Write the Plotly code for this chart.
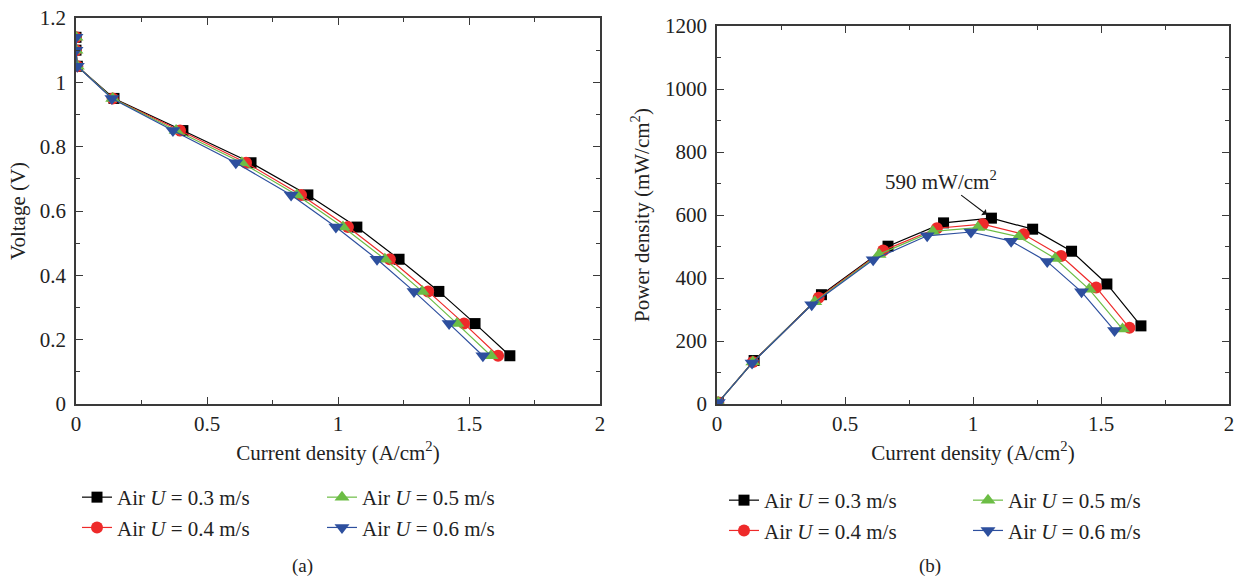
import plotly.graph_objects as go

# ---- data ----
speeds = ["0.3", "0.4", "0.5", "0.6"]
voltage = [1.14, 1.10, 1.05, 0.95, 0.85, 0.75, 0.65, 0.55, 0.45, 0.35, 0.25, 0.15]
current_03 = [0, 0, 0.005, 0.145, 0.408, 0.668, 0.885, 1.072, 1.233, 1.385, 1.523, 1.656]
current_04 = [0, 0, 0.005, 0.140, 0.397, 0.649, 0.859, 1.038, 1.198, 1.344, 1.481, 1.611]
current_05 = [0, 0, 0.005, 0.140, 0.382, 0.633, 0.843, 1.019, 1.179, 1.321, 1.454, 1.584]
current_06 = [0, 0, 0.005, 0.137, 0.370, 0.610, 0.821, 0.992, 1.149, 1.290, 1.424, 1.553]
power_03 = [0, 0, 5, 138, 347, 501, 575, 590, 555, 485, 381, 248]
power_04 = [0, 0, 5, 133, 337, 487, 558, 571, 539, 470, 370, 242]
power_05 = [0, 0, 5, 133, 325, 475, 548, 560, 531, 462, 364, 238]
power_06 = [0, 0, 5, 130, 315, 458, 534, 546, 517, 452, 356, 233]
x_ticks = [0, 0.5, 1, 1.5, 2]
v_ticks = [0, 0.2, 0.4, 0.6, 0.8, 1, 1.2]
p_ticks = [0, 200, 400, 600, 800, 1000, 1200]

currents = [current_03, current_04, current_05, current_06]
powers = [power_03, power_04, power_05, power_06]
colors = ["#000000", "#ee2a2a", "#6cbd45", "#2d4f9e"]
symbols = ["square", "circle", "triangle-up", "triangle-down"]
sizes = [11, 12, 13, 13]

FONT = "Liberation Serif"
FS = 21
W, H = 1246, 580

def px_x(p):
    return p / W

def px_y(p):
    return 1 - p / H

fig = go.Figure()

legend_of_left = ["legend", "legend", "legend2", "legend2"]
legend_of_right = ["legend3", "legend3", "legend4", "legend4"]

for i in range(4):
    name = f"Air <i>U</i> = {speeds[i]} m/s"
    fig.add_trace(go.Scatter(
        x=currents[i], y=voltage, mode="lines+markers", name=name,
        line=dict(color=colors[i], width=1.2),
        marker=dict(symbol=symbols[i], size=sizes[i], color=colors[i]),
        xaxis="x", yaxis="y", legend=legend_of_left[i]))
for i in range(4):
    name = f"Air <i>U</i> = {speeds[i]} m/s"
    fig.add_trace(go.Scatter(
        x=currents[i], y=powers[i], mode="lines+markers", name=name,
        line=dict(color=colors[i], width=1.2),
        marker=dict(symbol=symbols[i], size=sizes[i], color=colors[i]),
        xaxis="x2", yaxis="y2", legend=legend_of_right[i]))

axis_common = dict(
    showline=True, linecolor="#3a3a3a", linewidth=1.6, mirror="allticks",
    ticks="inside", ticklen=7, tickwidth=1.3, tickcolor="#3a3a3a",
    showgrid=False, zeroline=False, automargin=False,
    tickfont=dict(family=FONT, size=FS, color="#222"),
)

fig.update_layout(
    width=W, height=H,
    margin=dict(l=0, r=0, t=0, b=0),
    paper_bgcolor="white", plot_bgcolor="white",
    font=dict(family=FONT, size=FS, color="#222"),
    xaxis=dict(domain=[px_x(76), px_x(600)], range=[0, 2], anchor="y",
               tickvals=x_ticks, ticktext=[str(t) for t in x_ticks],
               ticklabelstandoff=0,
               minor=dict(ticks="inside", ticklen=4, dtick=0.25, tickcolor="#3a3a3a"),
               title=dict(text="Current density (A/cm<sup>2</sup>)", font=dict(family=FONT, size=FS), standoff=10),
               **axis_common),
    yaxis=dict(domain=[px_y(404), px_y(18)], range=[0, 1.2], anchor="x",
               tickvals=v_ticks, ticktext=["0", "0.2", "0.4", "0.6", "0.8", "1", "1.2"],
               ticklabelstandoff=4,
               minor=dict(ticks="inside", ticklen=4, dtick=0.1, tickcolor="#3a3a3a"),
               title=dict(text="Voltage (V)", font=dict(family=FONT, size=FS), standoff=8),
               **axis_common),
    xaxis2=dict(domain=[px_x(717), px_x(1229)], range=[0, 2], anchor="y2",
                tickvals=x_ticks, ticktext=[str(t) for t in x_ticks],
                ticklabelstandoff=0,
                minor=dict(ticks="inside", ticklen=4, dtick=0.25, tickcolor="#3a3a3a"),
                title=dict(text="Current density (A/cm<sup>2</sup>)", font=dict(family=FONT, size=FS), standoff=10),
                **axis_common),
    yaxis2=dict(domain=[px_y(404), px_y(26)], range=[0, 1200], anchor="x2",
                tickvals=p_ticks, ticktext=[str(t) for t in p_ticks],
                ticklabelstandoff=4,
                minor=dict(ticks="inside", ticklen=4, dtick=100, tickcolor="#3a3a3a"),
                title=dict(text="Power density (mW/cm<sup>2</sup>)", font=dict(family=FONT, size=FS), standoff=10),
                **axis_common),
    showlegend=True,
)

leg_common = dict(orientation="v", bgcolor="rgba(0,0,0,0)", borderwidth=0,
                  font=dict(family=FONT, size=FS, color="#222"),
                  xanchor="left", yanchor="top", tracegroupgap=0, itemwidth=30)
fig.update_layout(
    legend=dict(x=px_x(77), y=px_y(477), **leg_common),
    legend2=dict(x=px_x(322), y=px_y(477), **leg_common),
    legend3=dict(x=px_x(724), y=px_y(480), **leg_common),
    legend4=dict(x=px_x(968), y=px_y(480), **leg_common),
)

fig.add_annotation(x=current_03[7], y=power_03[7], xref="x2", yref="y2",
                   text="590 mW/cm<sup>2</sup>", showarrow=True,
                   arrowhead=1, arrowsize=1.2, arrowwidth=1.1, arrowcolor="#111",
                   standoff=6, ax=-50, ay=-38, xanchor="center",
                   font=dict(family=FONT, size=FS, color="#222"))

fig.add_annotation(x=px_x(302), y=px_y(566), xref="paper", yref="paper",
                   xanchor="center", yanchor="middle",
                   text="(a)", showarrow=False, font=dict(family=FONT, size=19, color="#222"))
fig.add_annotation(x=px_x(930), y=px_y(566), xref="paper", yref="paper",
                   xanchor="center", yanchor="middle",
                   text="(b)", showarrow=False, font=dict(family=FONT, size=19, color="#222"))

fig.write_html("out.html")
